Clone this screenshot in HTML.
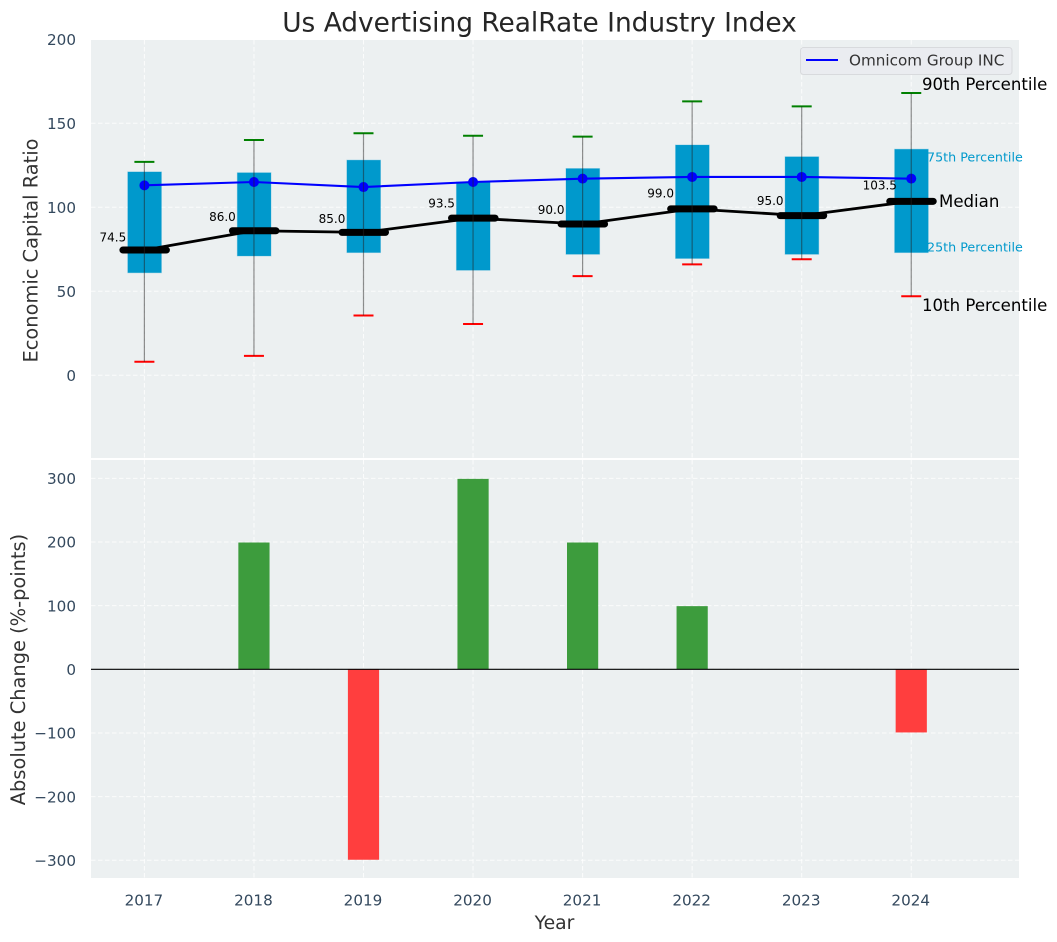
<!DOCTYPE html>
<html lang="en">
<head>
<meta charset="utf-8">
<title>Us Advertising RealRate Industry Index</title>
<style>
html,body{margin:0;padding:0;background:#fff;width:1057px;height:942px;overflow:hidden}
svg{display:block;font-family:"DejaVu Sans","Liberation Sans",sans-serif}
</style>
</head>
<body>
<svg id="chart" xmlns="http://www.w3.org/2000/svg" width="1057" height="942" viewBox="0 0 1057 942">
  <rect x="91" y="40" width="928" height="418" fill="#ecf0f1"/>
  <rect x="91" y="460" width="928" height="418" fill="#ecf0f1"/>
  <g id="gridLayer"></g>
  <g id="boxLayer"></g>
  <g id="lineLayer"></g>
  <g id="barLayer"></g>
  <g id="tickLayer"></g>
  <line x1="91" x2="1019" y1="669.3" y2="669.3" stroke="#000" stroke-width="1.2"/>
  <text x="539.5" y="31.5" text-anchor="middle" font-size="26.4" fill="#262626">Us Advertising RealRate Industry Index</text>
  <text x="0" y="0" transform="translate(37.5,250.5) rotate(-90)" text-anchor="middle" font-size="19.4" fill="#333">Economic Capital Ratio</text>
  <text x="0" y="0" transform="translate(25,669.5) rotate(-90)" text-anchor="middle" font-size="19.4" fill="#333">Absolute Change (%-points)</text>
  <text x="554.5" y="929" text-anchor="middle" font-size="18.8" fill="#333">Year</text>
  <g>
    <rect x="800.5" y="47.5" width="211.5" height="27" rx="3" fill="#eaecf0" stroke="#d8dadd" stroke-width="1"/>
    <line x1="806" x2="838" y1="60" y2="60" stroke="#0000ff" stroke-width="2"/>
    <text x="849" y="65.5" font-size="15.2" fill="#333">Omnicom Group INC</text>
  </g>
  <text x="922" y="90" font-size="16.6" fill="#000">90th Percentile</text>
  <text x="927" y="161.5" font-size="12.7" fill="#0099cc">75th Percentile</text>
  <text x="939" y="207" font-size="16.6" fill="#000">Median</text>
  <text x="927" y="251.5" font-size="12.7" fill="#0099cc">25th Percentile</text>
  <text x="922" y="311" font-size="16.6" fill="#000">10th Percentile</text>
  <rect x="91" y="458" width="928" height="2" fill="#fff"/>
</svg>
<script>
const years = [2017, 2018, 2019, 2020, 2021, 2022, 2023, 2024];
const p10 = [8, 11.5, 35.5, 30.5, 59, 66, 69, 47];
const p25 = [61, 71, 73, 62.5, 72, 69.5, 72, 73];
const median = [74.5, 86, 85, 93.5, 90, 99, 95, 103.5];
const p75 = [121, 120.5, 128, 115, 123, 137, 130, 134.5];
const p90 = [127, 140, 144, 142.5, 142, 163, 160, 168];
const omnicom = [113, 115, 112, 115, 117, 118, 118, 117];
const changes = [0, 200, -300, 300, 200, 100, 0, -100];
const topTicks = [0, 50, 100, 150, 200];
const bottomTicks = [-300, -200, -100, 0, 100, 200, 300];

const SVG_NS = 'http://www.w3.org/2000/svg';
function xAt(i) { return 144.4 + i * 109.55; }
function yTop(v) { return 375.2 - v * 1.68; }
function yBottom(v) { return 669.3 - v * 0.6365; }
function make(tag, parent, attrs, text) {
  const node = document.createElementNS(SVG_NS, tag);
  for (const k in attrs) node.setAttribute(k, attrs[k]);
  if (text !== undefined) node.textContent = text;
  parent.appendChild(node);
  return node;
}
const gridLayer = document.getElementById('gridLayer');
const boxLayer = document.getElementById('boxLayer');
const lineLayer = document.getElementById('lineLayer');
const barLayer = document.getElementById('barLayer');
const tickLayer = document.getElementById('tickLayer');
const gridStyle = { stroke: '#ffffff', 'stroke-width': 1, 'stroke-dasharray': '4.5 2.5', 'stroke-opacity': 0.8 };

topTicks.forEach(function (t) {
  const g = make('line', gridLayer, Object.assign({ x1: 91, x2: 1019, y1: yTop(t), y2: yTop(t) }, gridStyle));
  
  
  const l = make('text', tickLayer, { x: 76, y: yTop(t) + 5.9, 'text-anchor': 'end', 'font-size': 15.2, fill: '#34495e' }, String(t));
  
  
});
bottomTicks.forEach(function (t) {
  const g = make('line', gridLayer, Object.assign({ x1: 91, x2: 1019, y1: yBottom(t), y2: yBottom(t) }, gridStyle));
  
  
  const label = t < 0 ? '\u2212' + Math.abs(t) : String(t);
  const l = make('text', tickLayer, { x: 76, y: yBottom(t) + 5.7, 'text-anchor': 'end', 'font-size': 15.2, fill: '#34495e' }, label);
  
  
});

years.forEach(function (year, i) {
  const x = xAt(i);
  const g1 = make('line', gridLayer, Object.assign({ x1: x, x2: x, y1: 40, y2: 458 }, gridStyle));
  
  
  const g2 = make('line', gridLayer, Object.assign({ x1: x, x2: x, y1: 460, y2: 878 }, gridStyle));
  
  
  const tl = make('text', tickLayer, { x: x - 0.5, y: 905.5, 'text-anchor': 'middle', 'font-size': 15.2, fill: '#34495e' }, String(year));
  
  

  const box = make('rect', boxLayer, { x: x - 16.6, width: 33.6, y: yTop(p75[i]), height: yTop(p25[i]) - yTop(p75[i]), fill: '#0099cc', stroke: '#0099cc', 'stroke-opacity': 0.3, 'stroke-width': 1 });
  
  

  const cap90 = make('line', boxLayer, { x1: x - 10, x2: x + 10, y1: yTop(p90[i]), y2: yTop(p90[i]), stroke: '#008000', 'stroke-width': 2 });
  
  
  const cap10 = make('line', boxLayer, { x1: x - 10, x2: x + 10, y1: yTop(p10[i]), y2: yTop(p10[i]), stroke: '#ff0000', 'stroke-width': 2 });
  
  
});

const medianPts = median.map(function (v, i) { return xAt(i) + ',' + yTop(v); }).join(' ');
const medianLine = make('polyline', lineLayer, { points: medianPts, fill: 'none', stroke: '#000', 'stroke-width': 2.8 });



const omnicomPts = omnicom.map(function (v, i) { return xAt(i) + ',' + yTop(v); }).join(' ');
const omnicomLine = make('polyline', lineLayer, { points: omnicomPts, fill: 'none', stroke: '#0000ff', 'stroke-width': 2.1 });



years.forEach(function (year, i) {
  const x = xAt(i);
  const tick = make('line', lineLayer, { x1: x - 21.5, x2: x + 22, y1: yTop(median[i]), y2: yTop(median[i]), stroke: '#000', 'stroke-width': 7, 'stroke-linecap': 'round' });
  
  
  const dot = make('circle', lineLayer, { cx: x, cy: yTop(omnicom[i]), r: 5, fill: '#0000ff' });
  
  
  const whisker = make('line', lineLayer, { x1: x, x2: x, y1: yTop(p90[i]), y2: yTop(p10[i]), stroke: '#222', 'stroke-opacity': 0.5, 'stroke-width': 1.2 });
  
  
  const lab = make('text', lineLayer, { x: x - 31.5, y: yTop(median[i] * 1.064) - 0.5, 'text-anchor': 'middle', 'font-size': 12, fill: '#000' }, median[i].toFixed(1));
  
  

  if (changes[i] !== 0) {
    const y0 = yBottom(Math.max(changes[i], 0));
    const y1 = yBottom(Math.min(changes[i], 0));
    const bar = make('rect', barLayer, { x: x - 15.6, width: 31.2, y: changes[i] > 0 ? y0 + 0.5 : y0, height: y1 - y0 - 0.5, fill: changes[i] > 0 ? '#3d9c3d' : '#ff3e3e' });
    
    
  }
});
</script>
</body>
</html>
